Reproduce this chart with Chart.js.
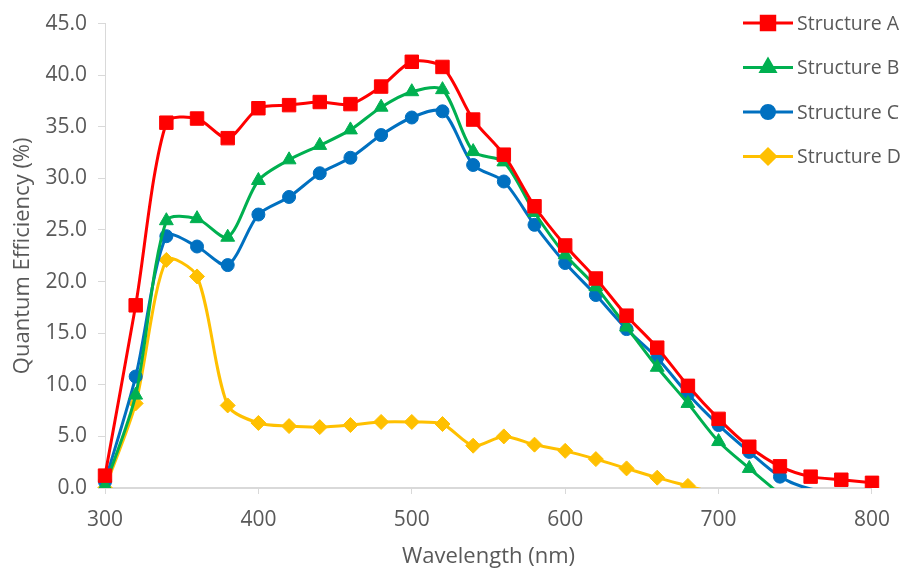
<!DOCTYPE html>
<html>
<head>
<meta charset="utf-8">
<script src="https://cdn.jsdelivr.net/npm/chart.js@4/dist/chart.umd.min.js"></script>
<style>
  html, body { margin: 0; padding: 0; background: #fff; }
  #wrap { width: 903px; height: 571px; }
</style>
</head>
<body>
<div id="wrap"><canvas id="qe-chart" width="903" height="571"></canvas></div>
<script>
// wavelength (nm) every 20 nm
const wavelengths = [300, 320, 340, 360, 380, 400, 420, 440, 460, 480, 500, 520, 540,
    560, 580, 600, 620, 640, 660, 680, 700, 720, 740, 760, 780, 800];

// quantum efficiency (%); values below 0 are off the axis
const structureA = [1.2, 17.7, 35.4, 35.8, 33.9, 36.8, 37.1, 37.4, 37.2, 38.9, 41.3, 40.8, 35.7,
    32.3, 27.3, 23.5, 20.3, 16.7, 13.6, 9.9, 6.7, 4.0, 2.1, 1.1, 0.8, 0.5];
const structureB = [0.2, 9.0, 25.9, 26.1, 24.3, 29.8, 31.8, 33.2, 34.7, 36.9, 38.4, 38.6, 32.6,
    31.6, 26.7, 22.6, 19.5, 15.6, 11.7, 8.2, 4.5, 1.9, -0.6];
const structureC = [0.6, 10.8, 24.4, 23.4, 21.6, 26.5, 28.2, 30.5, 32.0, 34.2, 35.9, 36.5, 31.3,
    29.7, 25.5, 21.8, 18.7, 15.4, 12.6, 9.1, 6.1, 3.5, 1.1, -0.1, -0.3];
const structureD = [0.0, 8.2, 22.1, 20.5, 8.0, 6.3, 6.0, 5.9, 6.1, 6.4, 6.4, 6.2, 4.1,
    5.0, 4.2, 3.6, 2.8, 1.9, 1.0, 0.2, -0.6];

const seriesNames = ['Structure A', 'Structure B', 'Structure C', 'Structure D'];
const xTicks = [300, 400, 500, 600, 700, 800];
const yTicks = [0, 5, 10, 15, 20, 25, 30, 35, 40, 45];

const FONT = '"Open Sans", "Noto Sans", sans-serif';
const TEXT = '#595959';
const AXIS = '#d9d9d9';

const styles = [
    { color: '#ff0000', marker: 'rect', radius: 9.5 },
    { color: '#00b050', marker: 'triangle', radius: 8 },
    { color: '#0070c0', marker: 'circle', radius: 6.5 },
    { color: '#ffc000', marker: 'rectRot', radius: 7.5 },
];

function toPoints(values) {
    return values.map((v, i) => ({ x: wavelengths[i], y: v }));
}

function makeDataset(values, i) {
    const s = styles[i];
    return {
        label: seriesNames[i],
        data: toPoints(values),
        borderColor: s.color,
        backgroundColor: s.color,
        borderWidth: 3,
        pointStyle: s.marker,
        pointRadius: (ctx) => (ctx.raw && ctx.raw.y < 0 ? 0 : s.radius),
        pointBorderWidth: 1,
        pointBackgroundColor: s.color,
        pointBorderColor: s.color,
        tension: 0.28,
        clip: { left: 14, top: 14, right: 14, bottom: 0 },
    };
}

// legend drawn over the top-right of the plot, like the original
const sideLegend = {
    id: 'sideLegend',
    afterDatasetsDraw(chart) {
        const ctx = chart.ctx;
        chart.data.datasets.forEach((ds, i) => {
            const s = styles[i];
            const y = 23 + i * 44.5;
            ctx.save();
            ctx.strokeStyle = s.color;
            ctx.lineWidth = 3;
            ctx.beginPath();
            ctx.moveTo(743, y);
            ctx.lineTo(793, y);
            ctx.stroke();
            ctx.fillStyle = s.color;
            ctx.strokeStyle = s.color;
            Chart.helpers.drawPoint(ctx, { pointStyle: s.marker, radius: s.radius, borderWidth: 1, rotation: 0 }, 768, y);
            ctx.fillStyle = TEXT;
            ctx.font = `19.5px ${FONT}`;
            ctx.textBaseline = 'middle';
            ctx.textAlign = 'left';
            ctx.fillText(ds.label, 797, y + 1);
            ctx.restore();
        });
    },
};

const ctx = document.querySelector('#qe-chart').getContext('2d');
new Chart(ctx, {
    type: 'line',
    data: {
        datasets: [structureA, structureB, structureC, structureD].map(makeDataset),
    },
    options: {
        responsive: false,
        animation: false,
        devicePixelRatio: 1,
        layout: { padding: { left: 0, right: 26, top: 23, bottom: 0 } },
        plugins: {
            legend: { display: false },
            tooltip: { enabled: false },
        },
        scales: {
            x: {
                type: 'linear',
                min: 300,
                max: 800,
                afterBuildTicks: (scale) => { scale.ticks = xTicks.map((v) => ({ value: v })); },
                afterFit: (scale) => { scale.height = 83; },
                ticks: { color: TEXT, font: { family: FONT, size: 21 }, padding: 13, maxRotation: 0 },
                grid: { drawOnChartArea: false, drawTicks: true, tickLength: 6, color: AXIS, lineWidth: 1 },
                border: { display: true, color: AXIS, width: 2 },
                title: {
                    display: true,
                    text: 'Wavelength (nm)',
                    color: TEXT,
                    font: { family: FONT, size: 22 },
                    padding: { top: 0, bottom: 1 },
                },
            },
            y: {
                min: 0,
                max: 45,
                afterBuildTicks: (scale) => { scale.ticks = yTicks.map((v) => ({ value: v })); },
                afterFit: (scale) => { scale.width = 105; },
                ticks: {
                    color: TEXT,
                    font: { family: FONT, size: 21 },
                    padding: 11,
                    callback: (v) => Number(v).toFixed(1),
                },
                grid: { drawOnChartArea: false, drawTicks: true, tickLength: 7, color: AXIS, lineWidth: 1 },
                border: { display: true, color: AXIS, width: 1 },
                title: {
                    display: true,
                    text: 'Quantum Efficiency (%)',
                    color: TEXT,
                    font: { family: FONT, size: 22 },
                    padding: { top: 10, bottom: 0 },
                },
            },
        },
    },
    plugins: [sideLegend],
});
</script>
</body>
</html>
